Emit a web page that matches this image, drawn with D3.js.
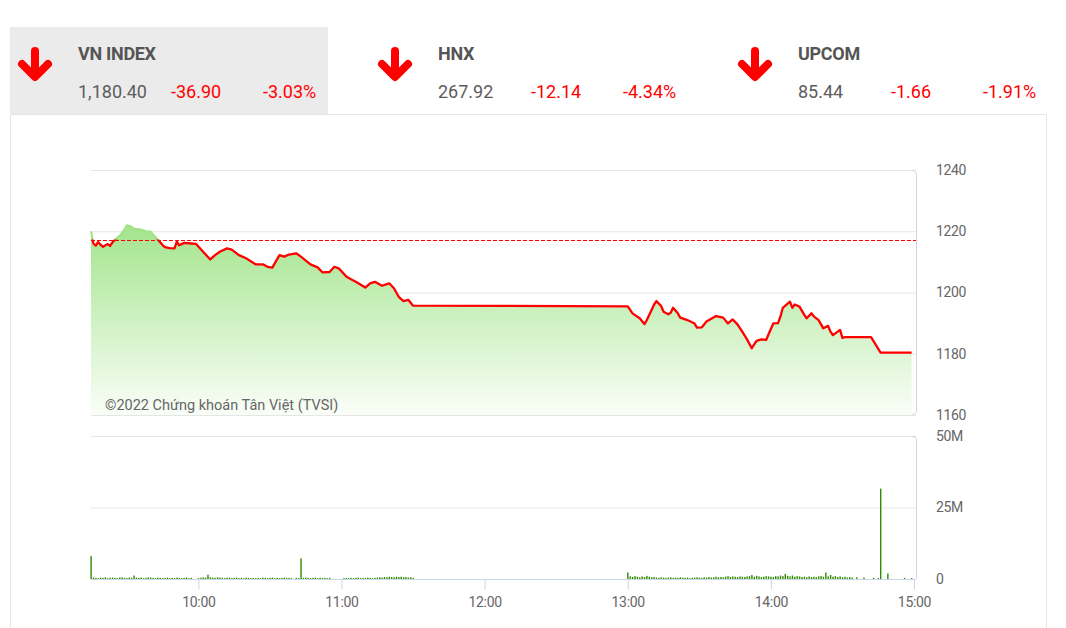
<!DOCTYPE html>
<html><head><meta charset="utf-8">
<script src="https://cdn.jsdelivr.net/npm/d3@7"></script>
<style>
body{margin:0;background:#fff;}
text{font-family:Roboto, "Noto Sans", sans-serif;}
</style>
</head><body>
<svg id="c" width="1066" height="628"></svg>
<script>
// ---------- data ----------
const indexNames = ["VN INDEX", "HNX", "UPCOM"];
const indexValues = ["1,180.40", "267.92", "85.44"];
const indexChanges = ["-36.90", "-12.14", "-1.66"];
const indexPercents = ["-3.03%", "-4.34%", "-1.91%"];

const referencePrice = 1217.30;

const priceTimes = ["9:15","9:16","9:17","9:18","9:19","9:20","9:22","9:23","9:24","9:25",
"9:27","9:29","9:30","9:32","9:33","9:36","9:38","9:40","9:41","9:43",
"9:45","9:46","9:48","9:50","9:51","9:52","9:54","9:57","9:59","10:00",
"10:02","10:05","10:07","10:09","10:12","10:14","10:17","10:20","10:24","10:27",
"10:29","10:31","10:34","10:36","10:38","10:41","10:43","10:47","10:50","10:52",
"10:55","10:57","10:59","11:02","11:04","11:06","11:10","11:12","11:14","11:17",
"11:20","11:22","11:24","11:26","11:28","11:30",
"13:00","13:02","13:05","13:07","13:08","13:10","13:11","13:12","13:14","13:15",
"13:17","13:18","13:19","13:21","13:22","13:25","13:28","13:29","13:31","13:33",
"13:37","13:40","13:42","13:44","13:46","13:48","13:50","13:52","13:54","13:56",
"13:58","14:01","14:03","14:04","14:05","14:08","14:09","14:10","14:12","14:14",
"14:15","14:17","14:18","14:20","14:22","14:24","14:25","14:26","14:29","14:30",
"14:31","14:42","14:46","14:59"];
const priceValues = [1220.0,1216.0,1215.3,1216.5,1215.6,1214.9,1215.8,1215.2,1216.4,1217.2,
1218.5,1220.5,1222.0,1221.5,1220.8,1220.6,1220.0,1219.9,1219.0,1217.3,
1215.5,1214.8,1214.5,1214.4,1216.6,1215.4,1216.2,1216.0,1215.9,1215.0,
1213.3,1210.8,1212.2,1213.3,1214.4,1214.0,1212.2,1211.2,1209.2,1209.2,
1208.4,1208.1,1212.2,1211.7,1212.4,1212.8,1211.7,1209.2,1208.2,1206.6,
1206.7,1208.4,1207.8,1205.2,1204.3,1203.5,1201.6,1203.0,1203.5,1202.2,
1203.0,1201.4,1198.6,1197.2,1197.6,1195.7,
1195.5,1193.2,1191.6,1189.7,1191.0,1194.3,1196.0,1197.2,1195.6,1193.7,
1192.9,1193.4,1195.0,1193.2,1191.8,1191.0,1189.9,1188.5,1188.6,1190.5,
1192.3,1191.8,1189.9,1191.2,1189.6,1187.2,1184.7,1181.8,1184.2,1184.7,
1184.5,1189.9,1190.0,1192.1,1195.0,1197.0,1195.0,1196.1,1195.4,1192.7,
1191.6,1193.2,1192.2,1191.0,1188.3,1189.1,1187.2,1186.1,1187.8,1185.2,
1185.4,1185.4,1180.4,1180.4];

// volume in millions, one value per minute
const volumeMorningStart = "9:15";
const volumeMorning = [8.0,0.5,0.4,0.3,0.5,0.4,0.6,0.3,0.4,0.5,
0.4,0.3,0.5,0.6,0.4,0.3,0.5,0.4,1.2,0.5,
0.4,0.5,0.3,0.4,0.6,0.5,0.4,0.3,0.5,0.4,
0.3,0.4,0.5,0.3,0.4,0.3,0.5,0.4,0.3,0.4,
0.5,0.3,0.4,0,0,0.3,0.4,0.6,0.5,1.5,
0.6,0.5,0.4,0.6,0.5,0.4,0.3,0.5,0.4,0.3,
0.4,0.5,0.3,0.4,0.3,0.5,0.4,0.3,0.4,0.3,
0.4,0.3,0.5,0.4,0.3,0.4,0.5,0.3,0.4,0.3,
0.4,0.5,0.3,0.4,0.3,0,0.4,0.3,7.2,0.4,
0.5,0.4,0.3,0.4,0.5,0.3,0.4,0.3,0.4,0.3,
0.4,0,0,0,0,0,0.3,0.4,0.3,0.4,
0.3,0.4,0.5,0.3,0.4,0.3,0.5,0.4,0.3,0.4,
0.5,0.6,0.5,0.7,0.6,0.8,0.7,0.6,0.8,0.7,
0.8,0.6,0.7,0.5,0.6,0.4];
const volumeAfternoonStart = "13:00";
const volumeAfternoon = [2.3,0.9,0.7,1.0,0.8,0.6,0.9,0.7,1.1,0.8,
0.6,0.7,0.5,0.4,0.6,0.5,0.4,0.5,0.6,0.4,
0.5,0.4,0.6,0.5,0.4,0.5,0.3,0.4,0.5,0.6,
0.5,0.4,0.6,0.5,0.7,0.5,0.6,0.8,0.6,0.7,
0.6,0.8,1.0,0.7,0.9,0.8,0.7,0.9,0.8,0.7,
0.9,1.0,1.4,0.8,1.1,0.9,0.7,0.8,1.0,0.9,
0.8,0.7,1.0,0.9,1.2,1.0,1.8,1.1,0.9,1.2,
0.8,1.0,0.9,0.7,0.8,0.6,0.9,0.7,0.8,0.6,
0.9,1.1,0.8,2.3,0.9,1.4,0.8,1.0,0.7,0.9,
0.6,0.8,0.5,0.7,0.5,0,0.6,0,0,0.5,
0,0,0,0.4,0,0.3];
const volumeCloseTimes = ["14:46","14:49","14:56","14:59"];
const volumeCloseValues = [31.6,1.9,0.4,0.3];

const priceTicks = [1160,1180,1200,1220,1240];
const volumeTicks = [0,25,50];
const volumeTickLabels = ["0","25M","50M"];
const timeTicks = ["10:00","11:00","12:00","13:00","14:00","15:00"];
const copyright = "©2022 Chứng khoán Tân Việt (TVSI)";

// ---------- helpers ----------
const toMin = s => { const [h,m] = s.split(":").map(Number); return h*60+m; };
const priceData = priceTimes.map((t,i)=>({t:toMin(t), v:priceValues[i]}));
const volumeData = [];
volumeMorning.forEach((v,i)=>volumeData.push({t:toMin(volumeMorningStart)+i, v}));
volumeAfternoon.forEach((v,i)=>volumeData.push({t:toMin(volumeAfternoonStart)+i, v}));
volumeCloseTimes.forEach((t,i)=>volumeData.push({t:toMin(t), v:volumeCloseValues[i]}));

const svg = d3.select("#c");
const L = 91, R = 914, RB = 916;
const x = d3.scaleLinear().domain([toMin("9:15"), toMin("15:00")]).range([L, R]);
const yP = d3.scaleLinear().domain([1160,1240]).range([415,170]);
const yV = d3.scaleLinear().domain([0,50]).range([579,436]);

// ---------- header ----------
svg.append("rect").attr("x",10).attr("y",27).attr("width",318).attr("height",87).attr("fill","#ebebeb");
svg.append("path").attr("d","M10.5,628 L10.5,114.5 L1046.5,114.5 L1046.5,628")
  .attr("fill","none").attr("stroke","#e6e6e6");

indexNames.forEach((n,i)=>{
  const ox = 360*i;
  svg.append("path").attr("d",`M${35+ox},51 L${35+ox},75 M${22+ox},64 L${35+ox},77 L${48+ox},64`)
    .attr("fill","none").attr("stroke","#ff0000").attr("stroke-width",8)
    .attr("stroke-linecap","round").attr("stroke-linejoin","round");
  svg.append("text").attr("x",78+ox).attr("y",60).attr("font-size",18).attr("font-weight","bold")
    .attr("letter-spacing","-0.3").attr("fill","#555").text(n);
  svg.append("text").attr("x",78+ox).attr("y",98).attr("font-size",18).attr("fill","#5c5c5c").text(indexValues[i]);
  svg.append("text").attr("x",171+ox).attr("y",98).attr("font-size",18).attr("fill","#ff0000").text(indexChanges[i]);
  svg.append("text").attr("x",263+ox).attr("y",98).attr("font-size",18).attr("fill","#ff0000").text(indexPercents[i]);
});

// ---------- price pane ----------
const defs = svg.append("defs");
const grad = defs.append("linearGradient").attr("id","ga").attr("gradientUnits","userSpaceOnUse")
  .attr("x1",0).attr("x2",0).attr("y1",170).attr("y2",415);
grad.append("stop").attr("offset","0").attr("stop-color","rgb(138,221,110)");
grad.append("stop").attr("offset","1").attr("stop-color","rgb(250,254,248)");

const yRef = Math.round(yP(referencePrice)) + 0.5;
defs.append("clipPath").attr("id","below").append("rect").attr("x",0).attr("y",yP(referencePrice)).attr("width",1066).attr("height",628);
defs.append("clipPath").attr("id","above").append("rect").attr("x",0).attr("y",0).attr("width",1066).attr("height",yP(referencePrice));

// gridlines via axis
const gridP = svg.append("g").attr("transform",`translate(${RB},0)`)
  .call(d3.axisLeft(yP).tickValues(priceTicks).tickSize(RB-L).tickFormat(""));
gridP.select(".domain").remove();
gridP.selectAll("line").attr("stroke","#e6e6e6");

const area = d3.area().x(d=>x(d.t)).y0(415).y1(d=>yP(d.v));
svg.append("path").datum(priceData).attr("d",area).attr("fill","url(#ga)");

const line = d3.line().x(d=>x(d.t)).y(d=>yP(d.v));
svg.append("path").datum(priceData).attr("d",line).attr("fill","none")
  .attr("stroke","#9fe386").attr("stroke-width",2).attr("clip-path","url(#above)");
svg.append("path").datum(priceData).attr("d",line).attr("fill","none")
  .attr("stroke","#ff0000").attr("stroke-width",2.3).attr("stroke-linejoin","round").attr("clip-path","url(#below)");

svg.append("line").attr("x1",L).attr("x2",RB).attr("y1",yRef).attr("y2",yRef)
  .attr("stroke","#ff0000").attr("stroke-width",1.2).attr("stroke-dasharray","4,2")
  .attr("shape-rendering","crispEdges");

svg.append("path").attr("d",`M${RB-4},170.5 Q${RB+0.5},170.5 ${RB+0.5},175 L${RB+0.5},410 Q${RB+0.5},414.5 ${RB-4},414.5`)
  .attr("fill","none").attr("stroke","#ccd6eb");

const axP = svg.append("g").attr("transform",`translate(${RB},0)`)
  .call(d3.axisRight(yP).tickValues(priceTicks).tickSize(0).tickPadding(20).tickFormat(d3.format("d")));
axP.select(".domain").remove();
axP.selectAll("text").attr("font-size",14).attr("letter-spacing","-0.4").attr("fill","#666").attr("font-family","Roboto");

svg.append("text").attr("x",105).attr("y",410).attr("font-size",14.5).attr("fill","#666").text(copyright);

// ---------- volume pane ----------
const gridV = svg.append("g").attr("transform",`translate(${RB},0)`)
  .call(d3.axisLeft(yV).tickValues([25,50]).tickSize(RB-L).tickFormat(""));
gridV.select(".domain").remove();
gridV.selectAll("line").attr("stroke","#e6e6e6");

svg.append("path").attr("d",`M${RB-4},436.5 Q${RB+0.5},436.5 ${RB+0.5},441 L${RB+0.5},579`)
  .attr("fill","none").attr("stroke","#ccd6eb");

svg.append("g").selectAll("rect").data(volumeData.filter(d=>d.v>0)).join("rect")
  .attr("x",d=>x(d.t)-0.6).attr("width",1.4)
  .attr("y",d=>yV(d.v)).attr("height",d=>yV(0)-yV(d.v))
  .attr("fill","#2d8c00");

const axV = svg.append("g").attr("transform",`translate(${RB},0)`)
  .call(d3.axisRight(yV).tickValues(volumeTicks).tickSize(0).tickPadding(20)
    .tickFormat((d,i)=>volumeTickLabels[i]));
axV.select(".domain").remove();
axV.selectAll("text").attr("font-size",14).attr("letter-spacing","-0.4").attr("fill","#666").attr("font-family","Roboto");

const axX = svg.append("g").attr("transform",`translate(0,579.5)`)
  .call(d3.axisBottom(x).tickValues(timeTicks.map(toMin)).tickSize(10).tickPadding(8)
    .tickFormat((d,i)=>timeTicks[i]));
axX.select(".domain").attr("d",`M${L},0 H${RB}`).attr("stroke","#ccd6eb");
axX.selectAll("line").attr("stroke","#ccd6eb");
axX.selectAll("text").attr("font-size",14).attr("letter-spacing","-0.3").attr("fill","#666").attr("font-family","Roboto");
</script>
</body></html>
